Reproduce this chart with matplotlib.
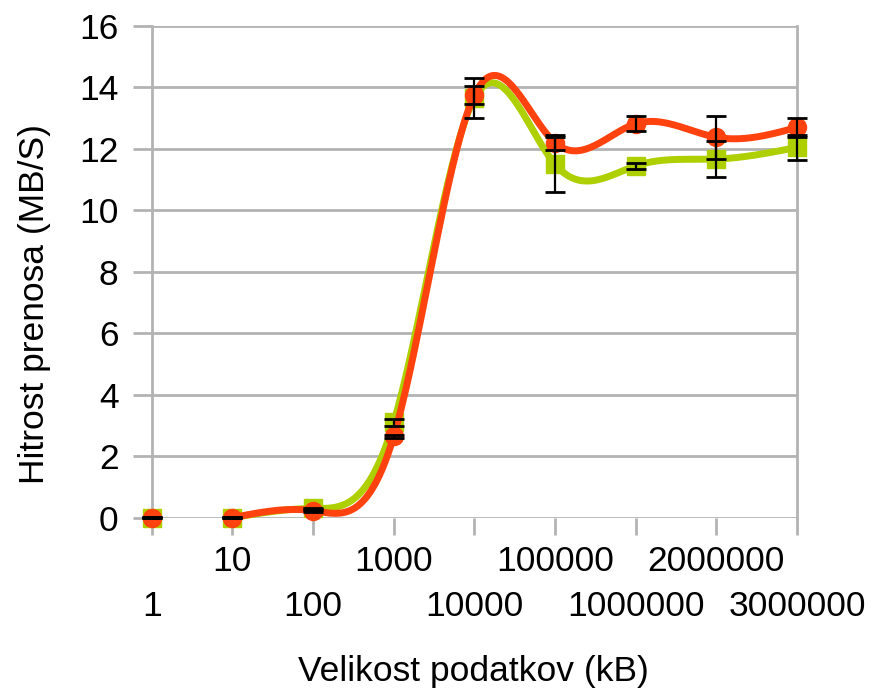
import numpy as np
import matplotlib
matplotlib.use("Agg")
import matplotlib.pyplot as plt

plt.rcParams['font.family'] = ['Liberation Sans', 'DejaVu Sans']

sizes = ['1', '10', '100', '1000', '10000', '100000', '1000000', '2000000', '3000000']
green = [0.0, 0.0, 0.3, 3.1, 13.65, 11.5, 11.45, 11.67, 12.05]
green_err = [0.02, 0.02, 0.03, 0.1, 0.65, 0.9, 0.1, 0.58, 0.4]
orange = [0.0, 0.0, 0.23, 2.65, 13.75, 12.2, 12.82, 12.38, 12.7]
orange_err = [0.02, 0.02, 0.03, 0.05, 0.3, 0.25, 0.25, 0.7, 0.3]

GREEN = '#AECF00'
ORANGE = '#FF420E'
GRID = '#B3B3B3'
FS = 25.5


def natural_spline(y, start=0, n=40):
    # natural cubic spline through equally spaced points
    y = np.asarray(y, dtype=float)
    k = len(y)
    A = np.zeros((k, k))
    b = np.zeros(k)
    A[0, 0] = A[-1, -1] = 1
    for i in range(1, k - 1):
        A[i, i - 1], A[i, i], A[i, i + 1] = 1, 4, 1
        b[i] = 6 * (y[i + 1] - 2 * y[i] + y[i - 1])
    m = np.linalg.solve(A, b)
    xs, ys = [], []
    for i in range(k - 1):
        t = np.linspace(0, 1, n, endpoint=(i == k - 2))
        seg = ((1 - t) * y[i] + t * y[i + 1]
               + ((1 - t) ** 3 - (1 - t)) * m[i] / 6
               + (t ** 3 - t) * m[i + 1] / 6)
        xs.append(start + i + t)
        ys.append(seg)
    return np.concatenate(xs), np.concatenate(ys)


fig = plt.figure(figsize=(8.75, 6.89), dpi=100)
ax = fig.add_axes([0.1734, 0.2486, 0.9109 - 0.1734, 0.9623 - 0.2486])

x = np.arange(len(sizes))

# the smoothed lines start at the second point (10 kB)
gx, gy = natural_spline(green[1:], start=1)
ax.plot(gx, gy, color=GREEN, lw=5, zorder=3, solid_capstyle='round', clip_on=False)
ax.plot(x, green, 's', color=GREEN, ms=13, zorder=3, clip_on=False)

ox, oy = natural_spline(orange[1:], start=1)
ax.plot(ox, oy, color=ORANGE, lw=5, zorder=4, solid_capstyle='round', clip_on=False)
ax.plot(x, orange, 'o', color=ORANGE, ms=13, zorder=4, clip_on=False)

for vals, errs in [(green, green_err), (orange, orange_err)]:
    eb = ax.errorbar(x, vals, yerr=errs, fmt='none', ecolor='black',
                     elinewidth=1.6, capsize=7, capthick=2, zorder=5)
    for art in eb.lines[1] + eb.lines[2]:
        art.set_clip_on(False)

ax.set_xlim(0, len(sizes) - 1)
ax.set_ylim(0, 16)
ax.set_yticks(range(0, 17, 2))
ax.yaxis.grid(True, color=GRID, lw=2)
ax.set_axisbelow(True)

# labels alternate between two rows: even positions low, odd positions high
ax.set_xticks(x[::2])
ax.set_xticklabels(sizes[::2])
ax.set_xticks(x[1::2], minor=True)
ax.set_xticklabels(sizes[1::2], minor=True)

for side in ['top', 'bottom']:
    ax.spines[side].set_visible(False)
for side in ['left', 'right']:
    ax.spines[side].set_color(GRID)
    ax.spines[side].set_linewidth(2)

ax.tick_params(axis='both', which='both', colors=GRID, width=2,
               labelsize=FS, labelcolor='black')
ax.tick_params(axis='x', which='minor', length=12, pad=8)
ax.tick_params(axis='x', which='major', length=12, pad=40)
ax.tick_params(axis='y', length=14, pad=10)

fig.text(473 / 875, 1 - 672 / 689, 'Velikost podatkov (kB)', fontsize=FS,
         ha='center', va='center')
fig.text(35 / 875, 1 - 304 / 689, 'Hitrost prenosa (MB/S)', fontsize=FS,
         ha='center', va='center', rotation=90)

fig.savefig('out.png', dpi=100)
